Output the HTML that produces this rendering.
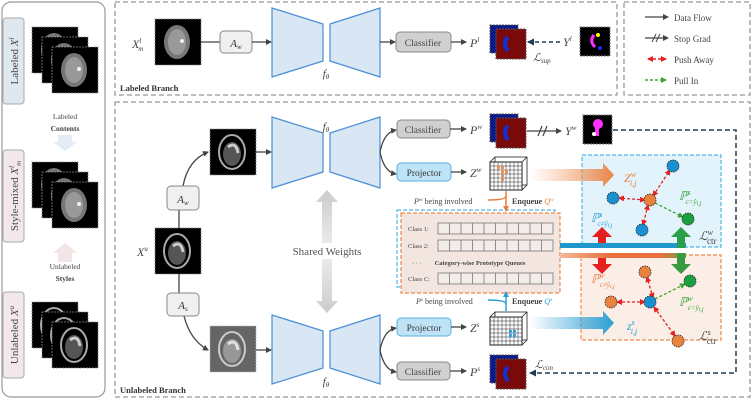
<!DOCTYPE html>
<html><head><meta charset="utf-8"><style>
body{margin:0;background:#fff}
svg{display:block}
text{font-family:"Liberation Serif",serif}
.it{font-style:italic}
</style></head><body>
<svg width="753" height="400" viewBox="0 0 753 400" xmlns="http://www.w3.org/2000/svg">
<defs>
<marker id="ah" markerWidth="6" markerHeight="6" refX="5" refY="3" orient="auto" markerUnits="userSpaceOnUse"><path d="M0,0 L6,3 L0,6 z" fill="#444"/></marker>
<marker id="an" markerWidth="7" markerHeight="7" refX="6" refY="3.5" orient="auto" markerUnits="userSpaceOnUse"><path d="M0,0 L7,3.5 L0,7 z" fill="#1f3b5a"/></marker>
<marker id="ao" markerWidth="6" markerHeight="6" refX="5" refY="3" orient="auto" markerUnits="userSpaceOnUse"><path d="M0,0 L6,3 L0,6 z" fill="#e87d3e"/></marker>
<marker id="ab" markerWidth="6" markerHeight="6" refX="5" refY="3" orient="auto" markerUnits="userSpaceOnUse"><path d="M0,0 L6,3 L0,6 z" fill="#2a9fd6"/></marker>
<marker id="ar" markerWidth="6" markerHeight="6" refX="5" refY="3" orient="auto-start-reverse" markerUnits="userSpaceOnUse"><path d="M0,0 L6,3 L0,6 z" fill="#e62020"/></marker>
<marker id="ag" markerWidth="6" markerHeight="6" refX="5" refY="3" orient="auto" markerUnits="userSpaceOnUse"><path d="M0,0 L6,3 L0,6 z" fill="#3aa335"/></marker>
<linearGradient id="go" x1="0" x2="1"><stop offset="0" stop-color="#f3a06e" stop-opacity="0"/><stop offset="1" stop-color="#ec8345"/></linearGradient>
<linearGradient id="gb" x1="0" x2="1"><stop offset="0" stop-color="#2a9fd6" stop-opacity="0"/><stop offset="1" stop-color="#2a9fd6"/></linearGradient>
<linearGradient id="gsw" x1="0" y1="0" x2="0" y2="1"><stop offset="0" stop-color="#ccc"/><stop offset="0.5" stop-color="#eee"/><stop offset="1" stop-color="#ccc"/></linearGradient>
<linearGradient id="band2" x1="0" x2="1"><stop offset="0" stop-color="#f2b89a"/><stop offset="0.4" stop-color="#e8703a"/><stop offset="0.8" stop-color="#e87040"/><stop offset="1" stop-color="#6aa040"/></linearGradient>
<g id="scan"><rect width="46" height="46" fill="#000" stroke="#888" stroke-dasharray="2,1" stroke-width="0.8"/><ellipse cx="22" cy="23" rx="13" ry="17" fill="#777"/><ellipse cx="22" cy="23" rx="9" ry="13" fill="#999"/><circle cx="27" cy="22" r="2" fill="#eee"/></g>
<g id="us"><rect width="46" height="46" fill="#000" stroke="#888" stroke-dasharray="2,1" stroke-width="0.8"/><ellipse cx="22" cy="23" rx="13" ry="17" fill="none" stroke="#aaa" stroke-width="2"/><ellipse cx="22" cy="25" rx="9" ry="12" fill="#555"/><path d="M18,18 q8,-6 10,6" stroke="#ccc" stroke-width="3" fill="none"/></g>
<g id="pred"><rect x="0" y="0" width="28" height="28" fill="#0a1a8a" stroke="#555" stroke-dasharray="2,1"/><rect x="6" y="4" width="30" height="30" fill="#7a0a0a" stroke="#555" stroke-dasharray="2,1"/><path d="M18,12 q-6,6 0,14" stroke="#1030d0" stroke-width="4" fill="none"/></g>
<g id="cube"><rect x="5" y="0" width="32" height="28" fill="#fff" stroke="#222" stroke-width="0.8"/><rect x="0" y="5" width="32" height="28" fill="#fff" stroke="#222"/><path d="M4,5v28M8,5v28M12,5v28M16,5v28M20,5v28M24,5v28M28,5v28M0,9h32M0,13h32M0,17h32M0,21h32M0,25h32M0,29h32" stroke="#222" stroke-width="0.5"/><path d="M0,5 L5,0 M32,5 L37,0 M32,33 L37,28" stroke="#222" stroke-width="0.8"/></g>
</defs>

<!-- Left panel -->
<rect x="2" y="2" width="103" height="395" rx="9" fill="#fff" stroke="#999" stroke-width="1.2"/>
<rect x="3" y="18" width="21" height="86" rx="3" fill="#dfe7ef" stroke="#aaa"/>
<text transform="translate(18,61) rotate(-90)" font-size="11" text-anchor="middle" fill="#444">Labeled <tspan class="it">X</tspan><tspan class="it" font-size="7" dy="-4">l</tspan></text>
<rect x="3" y="150" width="21" height="92" rx="3" fill="#f2e8ec" stroke="#aaa"/>
<text transform="translate(18,196) rotate(-90)" font-size="11" text-anchor="middle" fill="#444">Style-mixed <tspan class="it">X</tspan><tspan class="it" font-size="7" dy="-4">l</tspan><tspan class="it" font-size="7" dy="7">m</tspan></text>
<rect x="3" y="292" width="21" height="86" rx="3" fill="#f2e8ec" stroke="#aaa"/>
<text transform="translate(18,335) rotate(-90)" font-size="11" text-anchor="middle" fill="#444">Unlabeled <tspan class="it">X</tspan><tspan class="it" font-size="7" dy="-4">u</tspan></text>
<use href="#scan" x="32" y="27"/><use href="#scan" x="42" y="37"/><use href="#scan" x="52" y="47"/>
<use href="#scan" x="32" y="162"/><use href="#scan" x="42" y="172"/><use href="#scan" x="52" y="182"/>
<use href="#us" x="32" y="302"/><use href="#us" x="42" y="312"/><use href="#us" x="52" y="322"/>
<text x="65" y="119" font-size="7.5" text-anchor="middle" fill="#444">Labeled</text>
<text x="65" y="131" font-size="7.5" text-anchor="middle" fill="#444" font-weight="bold">Contents</text>
<path d="M58,135 h14 v7 h5 l-12,9 l-12,-9 h5z" fill="#e3ecf4"/>
<path d="M58,262 h14 v-9 h5 l-12,-10 l-12,10 h5z" fill="#f3e4e6"/>
<text x="65" y="269" font-size="7.5" text-anchor="middle" fill="#444">Unlabeled</text>
<text x="65" y="281" font-size="7.5" text-anchor="middle" fill="#444" font-weight="bold">Styles</text>

<!-- Boxes -->
<rect x="115" y="2" width="502" height="93" fill="none" stroke="#999" stroke-width="1.3" stroke-dasharray="5,3"/>
<rect x="624" y="2" width="126" height="93" fill="none" stroke="#999" stroke-width="1.3" stroke-dasharray="5,3"/>
<rect x="115" y="102" width="635" height="295" fill="none" stroke="#999" stroke-width="1.3" stroke-dasharray="5,3"/>
<text x="120" y="91" font-size="8.5" font-weight="bold" fill="#333">Labeled Branch</text>
<text x="120" y="393" font-size="8.5" font-weight="bold" fill="#333">Unlabeled Branch</text>

<!-- Legend -->
<g font-size="9" fill="#444">
<line x1="645" y1="17" x2="668" y2="17" stroke="#444" stroke-width="1.3" marker-end="url(#ah)"/><text x="674" y="21">Data Flow</text>
<line x1="645" y1="38" x2="668" y2="38" stroke="#444" stroke-width="1.3" marker-end="url(#ah)"/><path d="M652,42 l4,-8 M656,42 l4,-8" stroke="#444"/><text x="674" y="42">Stop Grad</text>
<line x1="648" y1="59" x2="666" y2="59" stroke="#e62020" stroke-width="1.5" stroke-dasharray="3,2" marker-start="url(#ar)" marker-end="url(#ar)"/><text x="674" y="63">Push Away</text>
<line x1="645" y1="80" x2="666" y2="80" stroke="#3aa335" stroke-width="1.5" stroke-dasharray="3,2" marker-end="url(#ag)"/><text x="674" y="84">Pull In</text>
</g>

<!-- Encoders -->
<g fill="#d9e6f4" stroke="#4a8fd6" stroke-width="1.2">
<path d="M272,8 L323,24 L323,61 L272,77z"/><path d="M380,8 L330,24 L330,61 L380,77z"/>
<path d="M272,117 L323,133 L323,172 L272,188z"/><path d="M380,117 L330,133 L330,172 L380,188z"/>
<path d="M272,315 L323,331 L323,368 L272,384z"/><path d="M380,315 L330,331 L330,368 L380,384z"/>
</g>
<g font-size="11" class="it" fill="#444" text-anchor="middle">
<text x="326" y="77" class="it">f<tspan font-size="7" dy="2">θ</tspan></text>
<text x="326" y="130" class="it">f<tspan font-size="7" dy="2">θ</tspan></text>
<text x="326" y="385" class="it">f<tspan font-size="7" dy="2">θ</tspan></text>
</g>

<!-- Labeled branch -->
<text x="132" y="48" font-size="12" class="it" fill="#444">X<tspan font-size="7" dy="-5">l</tspan><tspan font-size="7" dx="-3" dy="8">m</tspan></text>
<use href="#scan" x="155" y="19"/>
<line x1="201" y1="42" x2="220" y2="42" stroke="#444" stroke-width="1.3"/>
<rect x="220" y="31" width="32" height="22" rx="4" fill="#f0f0f0" stroke="#888"/>
<text x="236" y="47" font-size="11" class="it" text-anchor="middle" fill="#333">A<tspan font-size="7" dy="2">w</tspan></text>
<line x1="252" y1="42" x2="271" y2="42" stroke="#444" stroke-width="1.3" marker-end="url(#ah)"/>
<line x1="380" y1="42" x2="395" y2="42" stroke="#444" stroke-width="1.3" marker-end="url(#ah)"/>
<rect x="396" y="32" width="55" height="20" rx="4" fill="#d0d0d0" stroke="#888"/>
<text x="423" y="46" font-size="9.5" text-anchor="middle" fill="#444" font-family="Liberation Sans">Classifier</text>
<line x1="451" y1="42" x2="466" y2="42" stroke="#444" stroke-width="1.3" marker-end="url(#ah)"/>
<text x="470" y="47" font-size="12" class="it" fill="#444">P<tspan font-size="7" dy="-5">l</tspan></text>
<use href="#pred" x="490" y="25"/>
<line x1="560" y1="42" x2="528" y2="42" stroke="#1f3b5a" stroke-width="1.5" stroke-dasharray="4,3" marker-end="url(#an)"/>
<text x="563" y="46" font-size="12" class="it" fill="#444">Y<tspan font-size="7" dy="-5">l</tspan></text>
<text x="533" y="61" font-size="11" class="it" fill="#444">ℒ<tspan font-size="7" dy="2">sup</tspan></text>
<rect x="580" y="27" width="30" height="29" fill="#000" stroke="#777" stroke-dasharray="2,1"/>
<path d="M594,35 q-5,6 1,12" stroke="#ff30ff" stroke-width="3" fill="none"/><circle cx="598" cy="35" r="2" fill="#ff0"/><circle cx="600" cy="48" r="2" fill="#22f"/>

<!-- Unlabeled branch left -->
<text x="137" y="256" font-size="12" class="it" fill="#444">X<tspan font-size="7" dy="-5">u</tspan></text>
<use href="#us" x="155" y="228"/>
<path d="M179,228 L179,210" stroke="#444" stroke-width="1.3" fill="none"/>
<path d="M183,186 Q188,160 208,152" stroke="#444" stroke-width="1.3" fill="none" marker-end="url(#ah)"/>
<rect x="167" y="186" width="32" height="24" rx="4" fill="#f0f0f0" stroke="#888"/>
<text x="183" y="203" font-size="11" class="it" text-anchor="middle" fill="#333">A<tspan font-size="7" dy="2">w</tspan></text>
<path d="M179,274 L179,293" stroke="#444" stroke-width="1.3" fill="none"/>
<path d="M184,316 Q190,340 208,350" stroke="#444" stroke-width="1.3" fill="none" marker-end="url(#ah)"/>
<rect x="167" y="293" width="32" height="23" rx="4" fill="#f0f0f0" stroke="#888"/>
<text x="183" y="309" font-size="11" class="it" text-anchor="middle" fill="#333">A<tspan font-size="7" dy="2">s</tspan></text>
<use href="#us" x="210" y="129"/>
<g opacity="0.6"><use href="#us" x="210" y="326"/></g>
<line x1="256" y1="152" x2="271" y2="152" stroke="#444" stroke-width="1.3" marker-end="url(#ah)"/>
<line x1="256" y1="350" x2="271" y2="350" stroke="#444" stroke-width="1.3" marker-end="url(#ah)"/>
<path d="M327,190 l-11,12 h6 v99 h-6 l11,12 l11,-12 h-6 v-99 h6z" fill="url(#gsw)"/>
<rect x="285" y="243" width="84" height="16" fill="#fff"/>
<text x="327" y="255" font-size="11" text-anchor="middle" fill="#555">Shared Weights</text>

<!-- Heads -->
<path d="M380,152 q4,-20 16,-22" stroke="#444" stroke-width="1.3" fill="none" marker-end="url(#ah)"/>
<path d="M380,152 q4,20 16,22" stroke="#444" stroke-width="1.3" fill="none" marker-end="url(#ah)"/>
<path d="M380,350 q4,-20 16,-22" stroke="#444" stroke-width="1.3" fill="none" marker-end="url(#ah)"/>
<path d="M380,350 q4,20 16,22" stroke="#444" stroke-width="1.3" fill="none" marker-end="url(#ah)"/>
<rect x="397" y="120" width="53" height="18" rx="4" fill="#d0d0d0" stroke="#888"/>
<text x="423" y="133" font-size="9.5" text-anchor="middle" fill="#444" font-family="Liberation Sans">Classifier</text>
<rect x="397" y="163" width="54" height="18" rx="4" fill="#bfe3f6" stroke="#5ab0e0"/>
<text x="424" y="176" font-size="9.5" text-anchor="middle" fill="#333" font-family="Liberation Sans">Projector</text>
<rect x="397" y="318" width="54" height="18" rx="4" fill="#bfe3f6" stroke="#5ab0e0"/>
<text x="424" y="331" font-size="9.5" text-anchor="middle" fill="#333" font-family="Liberation Sans">Projector</text>
<rect x="397" y="362" width="53" height="18" rx="4" fill="#d0d0d0" stroke="#888"/>
<text x="423" y="375" font-size="9.5" text-anchor="middle" fill="#444" font-family="Liberation Sans">Classifier</text>
<g stroke="#444" stroke-width="1.3" marker-end="url(#ah)">
<line x1="450" y1="129" x2="466" y2="129"/><line x1="451" y1="172" x2="466" y2="172"/>
<line x1="451" y1="327" x2="466" y2="327"/><line x1="450" y1="371" x2="466" y2="371"/>
<line x1="527" y1="131" x2="561" y2="131"/></g>
<path d="M538,136 l4,-10 M543,136 l4,-10" stroke="#444" stroke-width="1.2"/>
<g font-size="12" class="it" fill="#444">
<text x="470" y="134">P<tspan font-size="7" dy="-5">w</tspan></text>
<text x="470" y="177">Z<tspan font-size="7" dy="-5">w</tspan></text>
<text x="470" y="332">Z<tspan font-size="7" dy="-5">s</tspan></text>
<text x="470" y="376">P<tspan font-size="7" dy="-5">s</tspan></text>
<text x="565" y="135">Y<tspan font-size="7" dy="-5">w</tspan></text>
<text x="535" y="368" font-size="11">ℒ<tspan font-size="7" dy="2">con</tspan></text>
</g>
<use href="#pred" x="490" y="114"/>
<use href="#pred" x="490" y="355"/>
<rect x="583" y="115" width="29" height="29" fill="#000" stroke="#777" stroke-dasharray="2,1"/>
<circle cx="598" cy="124" r="5" fill="#ff30ff"/><rect x="595" y="128" width="4" height="8" fill="#ff30ff"/><circle cx="594" cy="134" r="2" fill="#fff"/>
<path d="M613,130 H736 V373 H530" stroke="#1f3b5a" stroke-width="1.5" stroke-dasharray="5,3" fill="none" marker-end="url(#an)"/>
<use href="#cube" x="490" y="157"/>
<use href="#cube" x="490" y="312"/>
<g fill="#e8915c"><rect x="497" y="166" width="3" height="3"/><rect x="501" y="166" width="3" height="3"/><rect x="501" y="170" width="3" height="3"/><rect x="505" y="170" width="3" height="3"/><rect x="501" y="174" width="3" height="3"/><rect x="501" y="178" width="3" height="3"/></g>
<g fill="#3aa0d8"><rect x="509" y="330" width="3" height="3"/><rect x="513" y="330" width="3" height="3"/><rect x="509" y="334" width="3" height="3"/><rect x="513" y="334" width="3" height="3"/></g>

<!-- Contrast boxes -->
<rect x="582" y="155" width="139" height="92" fill="#e3f3fb" stroke="#4ab8e6" stroke-width="1.2" stroke-dasharray="4,2"/>
<rect x="581" y="255" width="140" height="85" fill="#fbeee6" stroke="#ec8a4e" stroke-width="1.2" stroke-dasharray="4,2"/>

<!-- Big gradient arrows -->
<path d="M530,169 H603 V163 L614,175 L603,187 V181 H530z" fill="url(#go)"/>
<path d="M530,317 H603 V311 L614,323 L603,335 V329 H530z" fill="url(#gb)"/>

<!-- Queue -->
<rect x="397" y="210" width="158" height="77" fill="none" stroke="#4ab8e6" stroke-width="1.2" stroke-dasharray="4,2"/>
<rect x="401" y="213" width="159" height="80" fill="#f3e6e0" stroke="#ec8a4e" stroke-width="1.2" stroke-dasharray="4,2"/>
<g font-size="6.5" fill="#444"><text x="408" y="231">Class 1:</text><text x="408" y="248">Class 2:</text><text x="412" y="265">· · ·</text><text x="408" y="281">Class <tspan class="it">C</tspan>:</text></g>
<text x="480" y="265" font-size="6.5" font-weight="bold" text-anchor="middle" fill="#444">Category-wise Prototype Queues</text>
<g fill="#f4ece8" stroke="#777" stroke-width="0.8">
<rect x="438" y="223" width="115" height="11"/><rect x="438" y="240" width="115" height="11"/><rect x="438" y="273" width="115" height="11"/></g>
<path d="M449.5,223v11M461,223v11M472.5,223v11M484,223v11M495.5,223v11M507,223v11M518.5,223v11M530,223v11M541.5,223v11
M449.5,240v11M461,240v11M472.5,240v11M484,240v11M495.5,240v11M507,240v11M518.5,240v11M530,240v11M541.5,240v11
M449.5,273v11M461,273v11M472.5,273v11M484,273v11M495.5,273v11M507,273v11M518.5,273v11M530,273v11M541.5,273v11" stroke="#777" stroke-width="0.8"/>
<g font-size="8" fill="#444">
<text x="414" y="204"><tspan class="it">P</tspan><tspan class="it" font-size="5.5" dy="-3">w</tspan><tspan dy="3"> being involved</tspan></text>
<text x="512" y="204" font-weight="bold">Enqueue <tspan class="it" fill="#e87d3e" font-weight="normal">Q<tspan font-size="5.5" dy="-3">w</tspan></tspan></text>
<text x="416" y="304"><tspan class="it">P</tspan><tspan class="it" font-size="5.5" dy="-3">s</tspan><tspan dy="3"> being involved</tspan></text>
<text x="512" y="304" font-weight="bold">Enqueue <tspan class="it" fill="#2a9fd6" font-weight="normal">Q<tspan font-size="5.5" dy="-3">s</tspan></tspan></text>
</g>
<path d="M506,191 V211" stroke="#e87d3e" stroke-width="1.5" marker-end="url(#ao)"/>
<path d="M488,200 q18,0 18,-4" stroke="#e87d3e" stroke-width="1.5" fill="none"/>
<path d="M506,311 V292" stroke="#2a9fd6" stroke-width="1.5" marker-end="url(#ab)"/>
<path d="M488,300 q18,0 18,4" stroke="#2a9fd6" stroke-width="1.5" fill="none"/>

<!-- bands -->
<rect x="560" y="243" width="126" height="5" fill="#1f96cc"/>
<rect x="560" y="253" width="126" height="5" fill="url(#band2)"/>
<path d="M598,243 V237 H592 L602,227 L612,237 H606 V243z" fill="#e62020"/>
<path d="M598,258 V264 H592 L602,274 L612,264 H606 V258z" fill="#e62020"/>
<path d="M677,248 V237 H671 L681,227 L691,237 H685 V248z" fill="#2aa04a"/>
<path d="M677,253 V264 H671 L681,274 L691,264 H685 V253z" fill="#3a9a40"/>

<!-- clusters -->
<g stroke-width="1.3" stroke-dasharray="3,2" fill="none">
<line x1="653" y1="196" x2="670" y2="170" stroke="#e62020" marker-start="url(#ar)" marker-end="url(#ar)"/>
<line x1="645" y1="200" x2="619" y2="198" stroke="#e62020" marker-start="url(#ar)" marker-end="url(#ar)"/>
<line x1="648" y1="205" x2="643" y2="225" stroke="#e62020" marker-start="url(#ar)" marker-end="url(#ar)"/>
<line x1="655" y1="203" x2="683" y2="217" stroke="#3aa335" marker-end="url(#ag)"/>
<line x1="653" y1="298" x2="647" y2="277" stroke="#e62020" marker-start="url(#ar)" marker-end="url(#ar)"/>
<line x1="645" y1="302" x2="617" y2="302" stroke="#e62020" marker-start="url(#ar)" marker-end="url(#ar)"/>
<line x1="654" y1="307" x2="675" y2="336" stroke="#e62020" marker-start="url(#ar)" marker-end="url(#ar)"/>
<line x1="655" y1="299" x2="685" y2="284" stroke="#3aa335" marker-end="url(#ag)"/>
</g>
<g stroke="#222" stroke-width="0.8" stroke-dasharray="1.5,1">
<circle cx="650" cy="200" r="6" fill="#e8823f"/><circle cx="673" cy="166" r="6" fill="#1a90d0"/><circle cx="613" cy="198" r="6" fill="#1a90d0"/><circle cx="642" cy="230" r="6" fill="#1a90d0"/><circle cx="688" cy="219" r="6" fill="#1aa040"/>
<circle cx="650" cy="302" r="6" fill="#1a90d0"/><circle cx="645" cy="272" r="6" fill="#e8823f"/><circle cx="611" cy="302" r="6" fill="#e8823f"/><circle cx="678" cy="341" r="6" fill="#e8823f"/><circle cx="690" cy="281" r="6" fill="#1aa040"/>
</g>
<g font-size="12" class="it">
<text x="624" y="182" fill="#e87d3e">Z<tspan font-size="8" dy="-5">w</tspan><tspan font-size="8" dx="-6" dy="9">i,j</tspan></text>
<text x="679" y="200" fill="#3aa335">ℙ<tspan font-size="8" dy="-5">s</tspan><tspan font-size="7" dx="-5" dy="9">c=ŷ</tspan><tspan font-size="6" dy="1">i,j</tspan></text>
<text x="591" y="222" fill="#2a9fd6">ℙ<tspan font-size="8" dy="-5">s</tspan><tspan font-size="7" dx="-5" dy="9">c≠ŷ</tspan><tspan font-size="6" dy="1">i,j</tspan></text>
<text x="699" y="240" fill="#444">ℒ<tspan font-size="8" dy="-5">w</tspan><tspan font-size="9" dx="-6" dy="9" font-style="normal">ctr</tspan></text>
<text x="591" y="283" fill="#e87d3e">ℙ<tspan font-size="8" dy="-5">w</tspan><tspan font-size="7" dx="-5" dy="9">c≠ŷ</tspan><tspan font-size="6" dy="1">i,j</tspan></text>
<text x="679" y="306" fill="#3aa335">ℙ<tspan font-size="8" dy="-5">w</tspan><tspan font-size="7" dx="-5" dy="9">c=ŷ</tspan><tspan font-size="6" dy="1">i,j</tspan></text>
<text x="627" y="330" fill="#2a9fd6">z<tspan font-size="8" dy="-5">s</tspan><tspan font-size="8" dx="-4" dy="9">i,j</tspan></text>
<text x="699" y="340" fill="#444">ℒ<tspan font-size="8" dy="-5">s</tspan><tspan font-size="9" dx="-4" dy="9" font-style="normal">ctr</tspan></text>
</g>
</svg>
</body></html>
